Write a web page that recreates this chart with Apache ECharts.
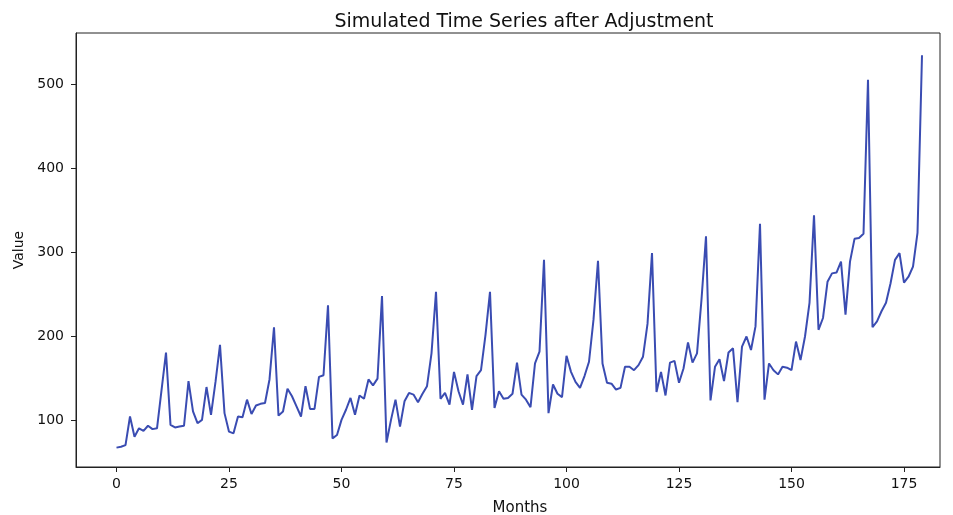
<!DOCTYPE html>
<html>
<head>
<meta charset="utf-8">
<script src="https://cdn.jsdelivr.net/npm/echarts@6/dist/echarts.min.js"></script>
<style>html,body{margin:0;padding:0;background:#fff;}#c{width:953px;height:515px;}</style>
</head>
<body>
<div id="c"></div>
<script>
const title = "Simulated Time Series after Adjustment";
const xName = "Months";
const yName = "Value";
const xTicks = [0, 25, 50, 75, 100, 125, 150, 175];
const yTicks = [100, 200, 300, 400, 500];
const values = [
  68, 69, 71, 105, 81, 91, 88, 94, 90, 91, 136, 181,
  95, 92, 93, 94, 147, 111, 97, 101, 140, 107, 146, 190,
  109, 87, 85, 105, 104, 125, 108, 118, 120, 121, 149, 211,
  106, 111, 138, 129, 117, 105, 141, 114, 114, 152, 154, 237,
  79, 83, 101, 113, 127, 107, 130, 126, 149, 142, 150, 248,
  74, 101, 125, 93, 123, 133, 131, 122, 132, 141, 180, 253,
  126, 133, 119, 158, 135, 119, 155, 113, 153, 160, 202, 253,
  115, 135, 126, 127, 132, 169, 131, 125, 116, 168, 182, 291,
  109, 143, 132, 128, 177, 158, 146, 139, 153, 170, 220, 290,
  168, 145, 144, 137, 139, 164, 164, 160, 166, 176, 215, 299,
  134, 158, 130, 169, 171, 145, 162, 193, 169, 180, 244, 319,
  124, 164, 173, 147, 181, 186, 122, 188, 200, 184, 212, 334,
  125, 168, 160, 155, 164, 163, 160, 194, 172, 200, 240, 344,
  208, 222, 265, 275, 276, 289, 226, 289, 316, 317, 322, 505,
  211, 218, 230, 240, 263, 291, 299, 264, 271, 283, 323, 534
];
const months = values.map((_, i) => i);
const seriesData = months.map((m, i) => [m, values[i]]);

const font = 'DejaVu Sans';
const chart = echarts.init(document.getElementById('c'), null, {renderer: 'canvas'});
chart.setOption({
  animation: false,
  backgroundColor: '#fff',
  title: {
    text: title, left: 519, top: 8, textAlign: 'center',
    textStyle: {fontFamily: font, fontSize: 19, fontWeight: 'normal', color: '#111'}
  },
  grid: {left: 76, right: 13, top: 33, bottom: 48, show: true, borderColor: '#222', borderWidth: 1,
         backgroundColor: 'transparent', containLabel: false, outerBoundsMode: 'none'},
  xAxis: {
    type: 'value', min: -9, max: 183,
    name: xName, nameLocation: 'middle', nameGap: 34,
    nameTextStyle: {fontFamily: font, fontSize: 15, color: '#111', padding: [0, 0, 0, 24]},
    axisLine: {show: true, onZero: false, lineStyle: {color: '#222', width: 1}},
    axisTick: {show: true, length: 5, lineStyle: {color: '#222'}, customValues: xTicks},
    axisLabel: {fontFamily: font, fontSize: 14, color: '#111', margin: 10, customValues: xTicks},
    splitLine: {show: false}
  },
  yAxis: {
    type: 'value', min: 45, max: 560.5,
    name: yName, nameLocation: 'middle', nameGap: 50, nameRotate: 90,
    nameTextStyle: {fontFamily: font, fontSize: 14, color: '#111'},
    axisLine: {show: true, onZero: false, lineStyle: {color: '#222', width: 1}},
    axisTick: {show: true, length: 5, lineStyle: {color: '#222'}, customValues: yTicks},
    axisLabel: {fontFamily: font, fontSize: 14, color: '#111', margin: 12, customValues: yTicks},
    splitLine: {show: false}
  },
  series: [{
    type: 'line', data: seriesData, showSymbol: false, symbol: 'none',
    lineStyle: {color: '#3a4cb2', width: 2}, itemStyle: {color: '#3a4cb2'}
  }]
});
</script>
</body>
</html>
